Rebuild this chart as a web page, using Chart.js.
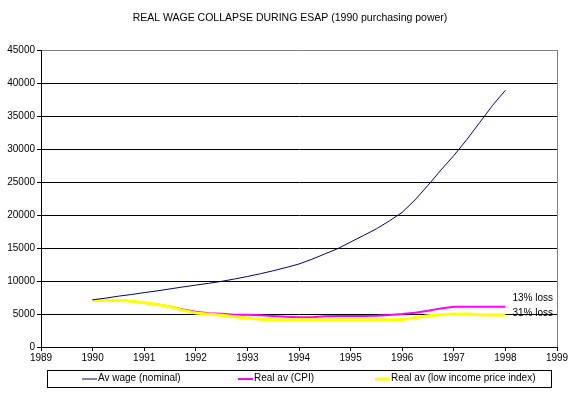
<!DOCTYPE html>
<html>
<head>
<meta charset="utf-8">
<script src="https://cdn.jsdelivr.net/npm/chart.js@4/dist/chart.umd.min.js"></script>
<style>
body { margin: 0; background: #fff; }
#wrap { width: 576px; height: 394px; }
</style>
</head>
<body>
<div id="wrap"><canvas id="canv-chart" width="576" height="394"></canvas></div>
<script>
// quarterly points, 1990 - 1998
var quarters = [1990, 1990.25, 1990.5, 1990.75, 1991, 1991.25, 1991.5, 1991.75,
    1992, 1992.25, 1992.5, 1992.75, 1993, 1993.25, 1993.5, 1993.75,
    1994, 1994.25, 1994.5, 1994.75, 1995, 1995.25, 1995.5, 1995.75,
    1996, 1996.25, 1996.5, 1996.75, 1997, 1997.25, 1997.5, 1997.75, 1998];
var nominal = [7150, 7400, 7700, 7950, 8240, 8500, 8800, 9100,
    9380, 9650, 9950, 10300, 10680, 11100, 11550, 12050,
    12580, 13300, 14100, 14900, 15900, 16900, 17900, 19100,
    20400, 22300, 24500, 26800, 29000, 31400, 34000, 36600, 38900];
var realCpi = [7070, 7070, 7070, 6950, 6700, 6450, 6150, 5700,
    5350, 5100, 5050, 4900, 4900, 4800, 4700, 4600,
    4500, 4500, 4650, 4700, 4700, 4700, 4750, 4850,
    5000, 5200, 5500, 5850, 6080, 6100, 6100, 6100, 6100];
var realLow = [7070, 7070, 7070, 6950, 6700, 6450, 6100, 5550,
    5150, 4950, 4800, 4600, 4400, 4200, 4130, 4120,
    4120, 4120, 4120, 4120, 4120, 4120, 4120, 4120,
    4150, 4450, 4750, 4900, 5000, 5000, 4900, 4850, 4850];
var seriesNames = ['Av wage (nominal)', 'Real av (CPI)', 'Real av (low income price index)'];
var lossLabels = ['13% loss', '31% loss'];
var chartTitle = 'REAL WAGE COLLAPSE DURING ESAP (1990 purchasing power)';

function toPoints(xs, ys) {
    var pts = [];
    for (var i = 0; i < xs.length; i++) {
        pts.push({ x: xs[i], y: ys[i] });
    }
    return pts;
}

var FONT = '"Liberation Sans", Arial, sans-serif';

var extras = {
    id: 'extras',
    afterDatasetsDraw: function (chart) {
        var c = chart.ctx;
        var xs = chart.scales.x, ys = chart.scales.y;
        c.save();
        // title
        c.fillStyle = '#000';
        c.font = '10.5px ' + FONT;
        c.textAlign = 'center';
        c.textBaseline = 'middle';
        c.fillText(chartTitle, 290, 18);

        // loss notes next to the line ends
        c.font = '10px ' + FONT;
        c.textAlign = 'left';
        var lx = xs.getPixelForValue(1998) + 7;
        c.fillText(lossLabels[0], lx, ys.getPixelForValue(7450));
        c.fillText(lossLabels[1], lx, ys.getPixelForValue(5150));

        // legend box
        var bx = 47, by = 370, bw = 504, bh = 17;
        c.fillStyle = '#fff';
        c.fillRect(bx, by, bw, bh);
        c.strokeStyle = '#000';
        c.lineWidth = 1;
        c.strokeRect(bx + 0.5, by + 0.5, bw, bh);
        var starts = [82, 238, 375];
        var cy = by + bh / 2 + 0.5;
        chart.data.datasets.forEach(function (ds, i) {
            c.strokeStyle = ds.borderColor;
            c.lineWidth = ds.borderWidth;
            c.beginPath();
            c.moveTo(starts[i], cy);
            c.lineTo(starts[i] + 15, cy);
            c.stroke();
            c.fillStyle = '#000';
            c.fillText(ds.label, starts[i] + 16, cy - 1);
        });
        c.restore();
    }
};

var ctx = document.getElementById('canv-chart');
var myChart = new Chart(ctx, {
    type: 'line',
    data: {
        datasets: [{
            label: seriesNames[0],
            data: toPoints(quarters, nominal),
            borderColor: '#000080',
            borderWidth: 1,
            order: 0
        }, {
            label: seriesNames[1],
            data: toPoints(quarters, realCpi),
            borderColor: '#ff00ff',
            borderWidth: 2,
            order: 2
        }, {
            label: seriesNames[2],
            data: toPoints(quarters, realLow),
            borderColor: '#ffff00',
            borderWidth: 3,
            order: 1
        }]
    },
    options: {
        responsive: false,
        animation: false,
        elements: { point: { radius: 0 }, line: { tension: 0 } },
        layout: { padding: { top: 50, right: 19, bottom: 27, left: 0 } },
        plugins: { legend: { display: false }, tooltip: { enabled: false }, title: { display: false } },
        scales: {
            x: {
                type: 'linear',
                min: 1989,
                max: 1999,
                afterFit: function (s) { s.height = 20; },
                ticks: {
                    stepSize: 1,
                    color: '#000',
                    font: { family: FONT, size: 10 },
                    padding: 1,
                    maxRotation: 0,
                    callback: function (v) { return String(v); }
                },
                grid: {
                    color: function (c) { return c.tick && c.tick.value === 1999 ? '#808080' : 'rgba(0,0,0,0)'; },
                    tickColor: '#000',
                    tickLength: 4
                },
                border: { color: '#000' }
            },
            y: {
                min: 0,
                max: 45000,
                afterFit: function (s) { s.width = 41; },
                ticks: {
                    stepSize: 5000,
                    color: '#000',
                    font: { family: FONT, size: 10 },
                    padding: 2,
                    callback: function (v) { return String(v); }
                },
                grid: {
                    color: function (c) { return c.tick && c.tick.value === 45000 ? '#808080' : '#000'; },
                    tickColor: '#000',
                    tickLength: 4
                },
                border: { color: '#000' }
            }
        }
    },
    plugins: [extras]
});
</script>
</body>
</html>
